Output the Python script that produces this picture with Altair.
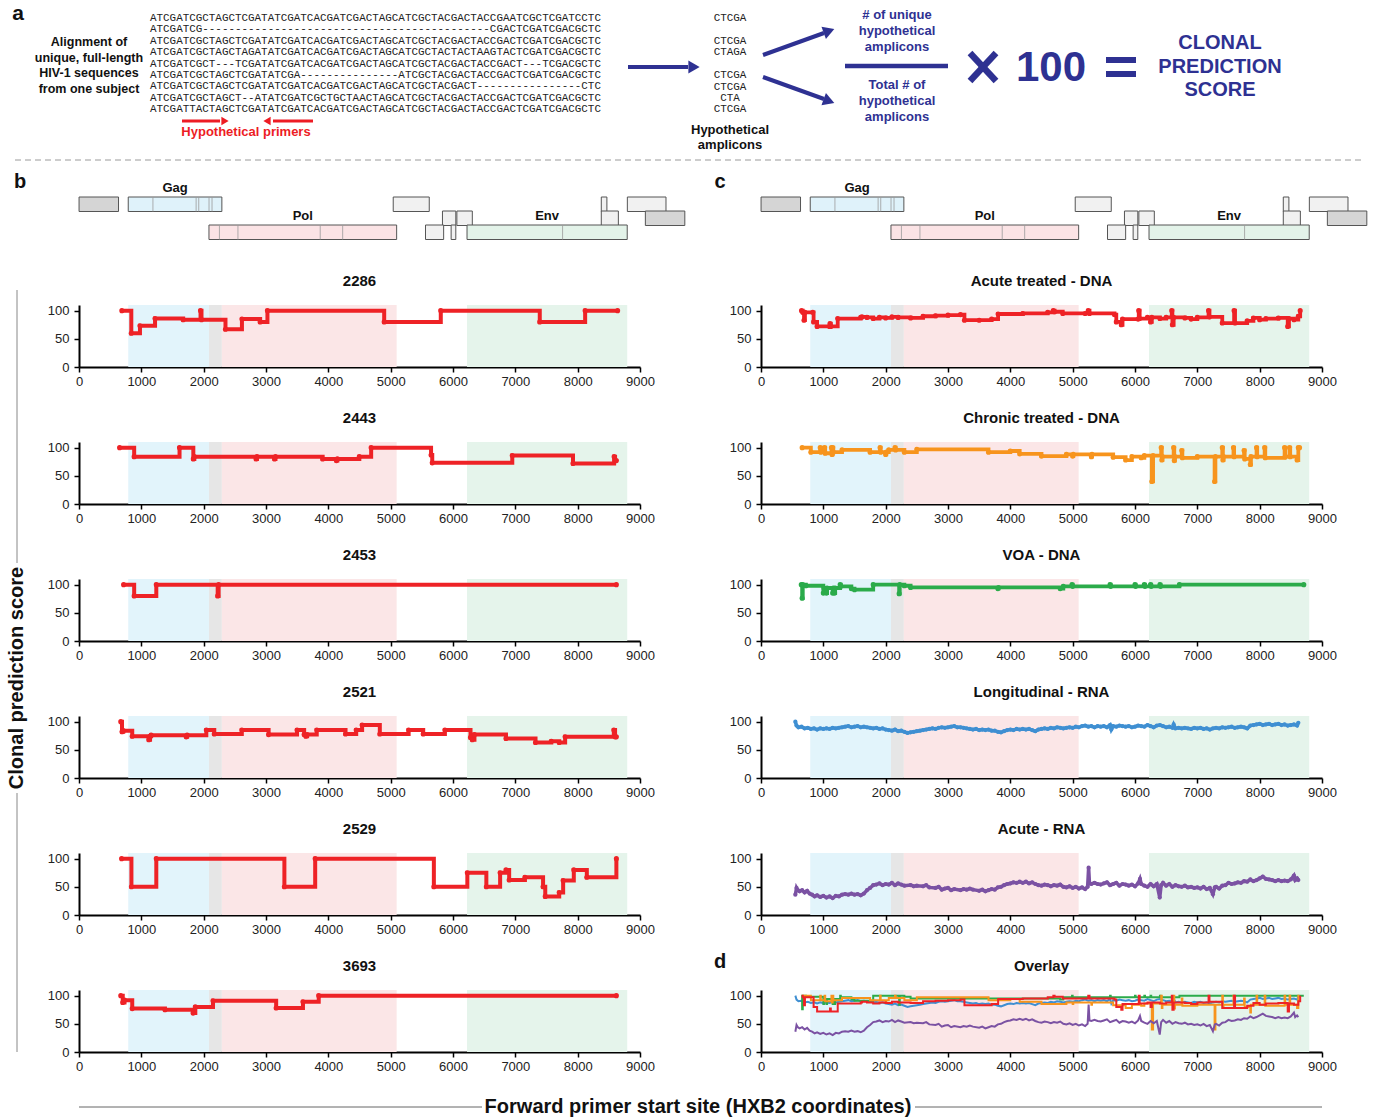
import altair as alt
import pandas as pd

# ======================= DATA =======================
# Panel b: clonal prediction score per participant (HXB2 position, score); step profile change points
P2286 = [(687, 100), (839, 60), (978, 73), (1220, 86), (1671, 84), (1950, 100), (1965, 84), (2350, 67),
         (2614, 85), (2906, 80), (3023, 100), (4896, 80), (5804, 100), (7392, 80), (8120, 100), (8641, 100)]
P2443 = [(651, 100), (885, 84), (1613, 100), (1834, 80), (1850, 84), (2840, 80), (2855, 84), (3137, 80),
         (3152, 84), (3909, 80), (4130, 77), (4145, 80), (4497, 84), (4687, 100), (5648, 87), (5667, 73),
         (6951, 86), (7925, 72), (8585, 84), (8600, 77), (8621, 77)]
P2453 = [(715, 100), (885, 80), (1240, 100), (2225, 80), (2240, 100), (8621, 100)]
P2521 = [(670, 100), (690, 82), (710, 84), (854, 74), (1120, 68), (1140, 74), (1157, 76), (1720, 73),
         (1735, 76), (2043, 85), (2170, 78), (2612, 85), (3042, 77), (3498, 85), (3612, 77), (3640, 74),
         (3660, 77), (3814, 85), (4276, 78), (4447, 85), (4542, 94), (4826, 78), (5288, 85), (5522, 78),
         (5870, 85), (6281, 72), (6310, 68), (6344, 77), (6850, 70), (7324, 63), (7577, 65), (7704, 63),
         (7799, 73), (8580, 85), (8600, 73), (8621, 73)]
P2529 = [(683, 100), (841, 50), (1240, 100), (3295, 50), (3789, 100), (5693, 50), (6230, 75), (6535, 50),
         (6756, 75), (6850, 80), (6901, 62), (7154, 67), (7445, 50), (7480, 33), (7704, 40), (7767, 61),
         (7938, 80), (8147, 67), (8621, 100)]
P3693 = [(670, 100), (702, 88), (730, 92), (854, 77), (1379, 75), (1830, 69), (1866, 80), (2150, 91),
         (3163, 78), (3593, 89), (3846, 100), (8621, 100)]
B_TITLES = ["2286", "2443", "2453", "2521", "2529", "3693"]

# Panel c: group profiles
ACUTE_DNA = [(650, 100), (670, 97), (690, 83), (705, 97), (830, 97), (844, 80), (900, 72), (1100, 72), (1107, 77),
             (1120, 72), (1231, 86), (1600, 88), (1620, 89), (1700, 88), (1800, 86), (1900, 88), (2000, 87),
             (2100, 89), (2200, 88), (2400, 87), (2600, 90), (2800, 91), (3000, 92), (3200, 93), (3264, 83),
             (3500, 83), (3700, 85), (3804, 94), (4200, 95), (4600, 97), (4690, 100), (4710, 98), (4841, 95),
             (5200, 95), (5250, 100), (5270, 95), (5671, 93), (5700, 80), (5780, 75), (5800, 85), (6050, 85),
             (6060, 100), (6075, 86), (6200, 88), (6250, 80), (6270, 88), (6400, 86), (6500, 88), (6590, 100),
             (6600, 75), (6620, 88), (6800, 87), (6900, 85), (7000, 88), (7180, 100), (7195, 89), (7400, 78),
             (7590, 100), (7605, 78), (7800, 82), (7900, 87), (8000, 84), (8100, 86), (8300, 87), (8450, 72),
             (8470, 86), (8550, 84), (8620, 90), (8650, 100)]
CHRONIC_DNA = [(660, 100), (800, 92), (950, 100), (960, 92), (1020, 100), (1030, 90), (1130, 100), (1140, 88),
               (1150, 100), (1160, 92), (1300, 96), (1750, 92), (1910, 100), (1920, 92), (2000, 88), (2010, 92),
               (2050, 96), (2150, 100), (2160, 96), (2300, 92), (2500, 97), (3650, 92), (4000, 94), (4150, 89),
               (4500, 85), (4900, 88), (5000, 85), (5010, 88), (5300, 84), (5310, 88), (5650, 83), (5850, 78),
               (5950, 84), (6100, 82), (6150, 86), (6270, 40), (6290, 86), (6420, 100), (6430, 78), (6440, 84),
               (6620, 100), (6630, 77), (6640, 84), (6750, 95), (6760, 82), (7000, 84), (7277, 40), (7290, 84),
               (7400, 100), (7410, 78), (7420, 84), (7580, 100), (7590, 84), (7750, 95), (7760, 80), (7850, 70),
               (7860, 84), (7950, 100), (7960, 84), (8080, 100), (8090, 82), (8400, 100), (8410, 84), (8480, 100),
               (8490, 84), (8600, 78), (8620, 100), (8640, 100)]
VOA_DNA = [(646, 100), (660, 76), (670, 100), (720, 98), (1000, 85), (1010, 94), (1050, 85), (1060, 94), (1150, 85),
           (1160, 94), (1180, 85), (1190, 94), (1270, 100), (1280, 97), (1450, 93), (1500, 91), (1800, 100),
           (2216, 84), (2226, 100), (2300, 98), (2400, 95), (3800, 93), (3810, 95), (4800, 93), (4850, 97),
           (4990, 100), (5000, 97), (5600, 100), (5610, 97), (6000, 100), (6010, 97), (6150, 100), (6160, 97),
           (6250, 100), (6260, 97), (6400, 100), (6410, 97), (6713, 100), (8708, 100)]
LONG_RNA = [(551, 100), (570, 93), (600, 90), (650, 91), (700, 88), (750, 89), (800, 87), (850, 88), (900, 86),
            (950, 88), (1000, 87), (1050, 88), (1100, 87), (1150, 89), (1200, 88), (1250, 89), (1300, 90),
            (1350, 91), (1400, 92), (1450, 90), (1500, 91), (1550, 92), (1600, 90), (1650, 91), (1700, 90),
            (1750, 89), (1800, 88), (1850, 89), (1900, 87), (1950, 88), (2000, 86), (2050, 85), (2100, 84),
            (2150, 86), (2200, 83), (2250, 84), (2300, 82), (2350, 80), (2400, 81), (2450, 82), (2500, 83),
            (2550, 84), (2600, 85), (2650, 86), (2700, 87), (2750, 88), (2800, 87), (2850, 89), (2900, 90),
            (2950, 89), (3000, 90), (3050, 91), (3100, 92), (3150, 90), (3200, 90), (3250, 89), (3300, 88),
            (3350, 87), (3400, 86), (3450, 87), (3500, 85), (3550, 86), (3600, 85), (3650, 86), (3700, 84),
            (3750, 84), (3800, 82), (3850, 81), (3900, 83), (3950, 85), (4000, 86), (4050, 85), (4100, 87),
            (4150, 86), (4200, 87), (4250, 86), (4300, 87), (4350, 85), (4400, 83), (4450, 86), (4500, 87),
            (4550, 88), (4600, 87), (4650, 89), (4700, 88), (4750, 90), (4800, 89), (4850, 88), (4900, 89),
            (4950, 90), (5000, 89), (5050, 91), (5100, 90), (5150, 92), (5200, 93), (5250, 91), (5300, 92),
            (5350, 90), (5400, 92), (5450, 91), (5500, 92), (5550, 90), (5600, 94), (5620, 86), (5650, 92),
            (5700, 91), (5750, 93), (5800, 92), (5850, 91), (5900, 92), (5950, 90), (6000, 91), (6050, 93),
            (6100, 92), (6150, 91), (6200, 94), (6250, 92), (6300, 90), (6350, 93), (6400, 94), (6450, 92),
            (6500, 90), (6550, 91), (6600, 89), (6620, 95), (6650, 88), (6700, 89), (6750, 88), (6800, 89),
            (6850, 88), (6900, 87), (6950, 89), (7000, 88), (7050, 89), (7100, 87), (7150, 88), (7200, 86),
            (7250, 88), (7300, 89), (7350, 88), (7400, 90), (7450, 89), (7500, 90), (7550, 91), (7600, 89),
            (7650, 90), (7700, 91), (7750, 90), (7800, 88), (7850, 93), (7900, 94), (7950, 95), (8000, 96),
            (8050, 94), (8100, 95), (8150, 96), (8200, 94), (8250, 95), (8300, 96), (8350, 94), (8400, 95),
            (8450, 93), (8500, 94), (8550, 95), (8600, 93), (8620, 98)]
ACUTE_RNA = [(551, 36), (570, 48), (590, 44), (620, 42), (660, 44), (700, 40), (740, 43), (780, 38), (820, 36),
             (860, 33), (900, 35), (950, 32), (1000, 34), (1050, 31), (1100, 33), (1150, 30), (1200, 34),
             (1250, 33), (1300, 36), (1350, 37), (1400, 36), (1450, 38), (1500, 36), (1550, 37), (1600, 35),
             (1650, 38), (1700, 44), (1750, 48), (1800, 53), (1850, 54), (1900, 56), (1950, 53), (2000, 55),
             (2050, 54), (2100, 57), (2150, 53), (2200, 56), (2250, 54), (2300, 52), (2400, 53), (2450, 51),
             (2500, 52), (2600, 51), (2650, 53), (2700, 49), (2800, 48), (2850, 50), (2900, 45), (2950, 47),
             (3000, 48), (3050, 44), (3100, 46), (3200, 44), (3250, 46), (3300, 45), (3350, 47), (3400, 45),
             (3500, 43), (3550, 45), (3600, 42), (3650, 44), (3700, 46), (3750, 45), (3800, 49), (3850, 50),
             (3900, 53), (3950, 55), (4000, 56), (4050, 58), (4100, 57), (4150, 59), (4200, 57), (4250, 59),
             (4300, 56), (4350, 58), (4400, 55), (4450, 53), (4500, 52), (4550, 54), (4600, 53), (4650, 51),
             (4700, 53), (4750, 52), (4800, 54), (4850, 50), (4900, 49), (4950, 51), (5000, 48), (5050, 50),
             (5100, 47), (5150, 49), (5200, 46), (5240, 50), (5256, 84), (5270, 56), (5300, 55), (5350, 57),
             (5400, 55), (5450, 54), (5500, 56), (5550, 58), (5600, 53), (5650, 55), (5700, 57), (5750, 52),
             (5800, 55), (5850, 54), (5900, 52), (5950, 54), (6000, 51), (6050, 56), (6080, 64), (6100, 55),
             (6150, 52), (6200, 50), (6250, 55), (6300, 51), (6350, 55), (6397, 31), (6420, 53), (6450, 57),
             (6500, 52), (6550, 55), (6600, 50), (6650, 53), (6700, 51), (6750, 50), (6800, 52), (6850, 49),
             (6900, 50), (6950, 48), (7000, 49), (7050, 47), (7100, 50), (7150, 46), (7200, 48), (7250, 37),
             (7280, 49), (7300, 50), (7350, 47), (7400, 52), (7450, 53), (7500, 57), (7550, 55), (7600, 56),
             (7650, 58), (7700, 57), (7750, 60), (7800, 59), (7850, 63), (7900, 60), (7950, 62), (8000, 65),
             (8050, 68), (8100, 64), (8150, 63), (8200, 62), (8250, 60), (8300, 62), (8350, 60), (8400, 61),
             (8450, 60), (8500, 63), (8550, 70), (8570, 62), (8600, 65), (8620, 62)]
C_TITLES = ["Acute treated - DNA", "Chronic treated - DNA", "VOA - DNA", "Longitudinal - RNA", "Acute - RNA", "Overlay"]

# HXB2 gene map
GENE_NAMES = ["5' LTR", "gag", "vif", "tat2", "nef", "tat1", "vpu", "rev2", "3' LTR", "pol", "vpr", "rev1", "env"]
GENE_START = [1, 790, 5041, 8379, 8797, 5831, 6062, 8379, 9086, 2085, 5559, 5970, 6225]
GENE_END = [634, 2292, 5619, 8469, 9417, 6045, 6310, 8653, 9719, 5096, 5850, 6045, 8795]
GENE_ROW = [1, 1, 1, 1, 1, 2, 2, 2, 2, 3, 3, 3, 3]
GENE_FILL = ["#d5d5d5", "#dff2fa", "#f1f1f1", "#f1f1f1", "#f1f1f1", "#f1f1f1", "#f1f1f1", "#f1f1f1",
             "#d5d5d5", "#fbe3e5", "#f1f1f1", "#f1f1f1", "#e3f3e9"]
CUT_POS = [1186, 1879, 1921, 2086, 2134, 2253, 2550, 3870, 4230, 7758]
CUT_ROW = [1, 1, 1, 1, 1, 3, 3, 3, 3, 3]
GENE_LABELS = ["Gag", "Pol", "Env"]
GENE_LABEL_POS = [1541, 3590, 7510]
GENE_LABEL_ROW = [0, 2, 2]

# region shading behind profiles
SHADE_START = [790, 2085, 2292, 6225]
SHADE_END = [2085, 2292, 5096, 8795]
SHADE_COLORS = ["#e2f4fb", "#e6e6e6", "#fbe6e7", "#e5f4eb"]

# panel a texts
SEQS = ["ATCGATCGCTAGCTCGATATCGATCACGATCGACTAGCATCGCTACGACTACCGAATCGCTCGATCCTC",
        "ATCGATCG--------------------------------------------CGACTCGATCGACGCTC",
        "ATCGATCGCTAGCTCGATATCGATCACGATCGACTAGCATCGCTACGACTACCGACTCGATCGACGCTC",
        "ATCGATCGCTAGCTAGATATCGATCACGATCGACTAGCATCGCTACTACTAAGTACTCGATCGACGCTC",
        "ATCGATCGCT---TCGATATCGATCACGATCGACTAGCATCGCTACGACTACCGACT---TCGACGCTC",
        "ATCGATCGCTAGCTCGATATCGA---------------ATCGCTACGACTACCGACTCGATCGACGCTC",
        "ATCGATCGCTAGCTCGATATCGATCACGATCGACTAGCATCGCTACGACT----------------CTC",
        "ATCGATCGCTAGCT--ATATCGATCGCTGCTAACTAGCATCGCTACGACTACCGACTCGATCGACGCTC",
        "ATCGATTACTAGCTCGATATCGATCACGATCGACTAGCATCGCTACGACTACCGACTCGATCGACGCTC"]
AMPLICONS = ["CTCGA", "CTCGA", "CTAGA", "CTCGA", "CTCGA", "CTA", "CTCGA"]
LEFT_TEXT = ["Alignment of", "unique, full-length", "HIV-1 sequences", "from one subject"]
AMP_LABEL = ["Hypothetical", "amplicons"]
NUM_TEXT = ["# of unique", "hypothetical", "amplicons"]
DEN_TEXT = ["Total # of", "hypothetical", "amplicons"]
SCORE_TEXT = ["CLONAL", "PREDICTION", "SCORE"]

# ======================= STYLE / LAYOUT =======================
FONT = "Liberation Sans"
MONO = "Liberation Mono"
NAVY = "#2e3192"
RED = "#ed1c24"
COLORS = {"red": "#ee2226", "orange": "#f7941d", "green": "#2bab4a", "blue": "#3f8fd2", "purple": "#7b52a3"}
W, H = 561, 62
ROW_TOP = {1: 29, 2: 43, 3: 57}
ROW_H = 14.5

XS = alt.Scale(domain=[0, 9000], nice=False, zero=False)
YS = alt.Scale(domain=[0, 110], nice=False)
XAX = alt.Axis(values=list(range(0, 9001, 1000)), format="d", labelFlush=False, labelOverlap=False, title=None)
YAX = alt.Axis(values=[0, 50, 100], format="d", labelOverlap=False, title=None)

ONE = pd.DataFrame({"k": [0]})


def label_at(t, x, y, **mk):
    return alt.Chart(pd.DataFrame({"t": [t]})).mark_text(**mk).encode(
        text="t:N", x=alt.value(x), y=alt.value(y))


def seg_at(x1, y1, x2, y2, **mk):
    return alt.Chart(ONE).mark_rule(**mk).encode(
        x=alt.value(x1), y=alt.value(y1), x2=alt.value(x2), y2=alt.value(y2))


def shade_layer():
    df = pd.DataFrame({"s": SHADE_START, "e": SHADE_END, "c": SHADE_COLORS})
    return alt.Chart(df).mark_rect().encode(
        x=alt.X("s:Q", scale=XS, axis=XAX), x2="e:Q",
        y=alt.value(0), y2=alt.value(H),
        color=alt.Color("c:N", scale=None))


def series(pairs, color, interp="step-after", sw=4, pts=True, psize=26):
    df = pd.DataFrame(pairs, columns=["pos", "score"])
    base = alt.Chart(df).encode(x=alt.X("pos:Q", scale=XS, axis=XAX),
                                y=alt.Y("score:Q", scale=YS, axis=YAX))
    out = [base.mark_line(color=color, strokeWidth=sw, interpolate=interp)]
    if pts:
        out.append(base.mark_circle(color=color, size=psize, opacity=1))
    return out


def title_layer(t):
    return label_at(t, W / 2, -24, font=FONT, fontSize=15, fontWeight="bold", baseline="middle", color="#111")


def plot_cell(title, layers, extras=()):
    return alt.layer(shade_layer(), *layers, title_layer(title), *extras).properties(width=W, height=H)


def gene_cell(letter):
    g = pd.DataFrame({"name": GENE_NAMES, "start": GENE_START, "end": GENE_END,
                      "row": GENE_ROW, "fill": GENE_FILL})
    g["top"] = g["row"].map(ROW_TOP)
    g["bot"] = g["top"] + ROW_H
    boxes = alt.Chart(g).mark_rect(stroke="#555", strokeWidth=1).encode(
        x=alt.X("start:Q", scale=XS, axis=None), x2="end:Q",
        y=alt.Y("top:Q", scale=None, axis=None), y2="bot:Q",
        fill=alt.Fill("fill:N", scale=None))
    c = pd.DataFrame({"pos": CUT_POS, "row": CUT_ROW})
    c["top"] = c["row"].map(ROW_TOP)
    c["bot"] = c["top"] + ROW_H
    cuts = alt.Chart(c).mark_rule(color="#9a9a9a", strokeWidth=0.8).encode(
        x=alt.X("pos:Q", scale=XS, axis=None),
        y=alt.Y("top:Q", scale=None, axis=None), y2="bot:Q")
    lab = pd.DataFrame({"t": GENE_LABELS, "pos": GENE_LABEL_POS, "row": GENE_LABEL_ROW})
    lab["ly"] = lab["row"].map({0: 20, 2: 48})
    labels = alt.Chart(lab).mark_text(font=FONT, fontSize=13, fontWeight="bold", baseline="middle",
                                      color="#111").encode(
        x=alt.X("pos:Q", scale=XS, axis=None), y=alt.Y("ly:Q", scale=None, axis=None), text="t:N")
    let = label_at(letter, -59 if letter == "b" else -41, 14, font=FONT, fontSize=20, fontWeight="bold",
                   baseline="middle", align="center", color="#111")
    return alt.layer(boxes, cuts, labels, let).properties(width=W, height=H)


# ---------------- panel a (diagram), drawn in the first grid cell -----------------
OX, OY = 79, 31  # page position of this cell's origin


def text_layer(items, **mk):
    df = pd.DataFrame(items, columns=["t", "px", "py"])
    df["cx"] = df["px"] - OX
    df["cy"] = df["py"] - OY
    return alt.Chart(df).mark_text(baseline="middle", **mk).encode(
        x=alt.X("cx:Q", scale=None, axis=None), y=alt.Y("cy:Q", scale=None, axis=None), text="t:N")


def rule_layer(segs, **mk):
    df = pd.DataFrame(segs, columns=["x1", "y1", "x2", "y2"])
    df["a"] = df["x1"] - OX
    df["b"] = df["y1"] - OY
    df["c"] = df["x2"] - OX
    df["d"] = df["y2"] - OY
    return alt.Chart(df).mark_rule(**mk).encode(
        x=alt.X("a:Q", scale=None, axis=None), y=alt.Y("b:Q", scale=None, axis=None), x2="c:Q", y2="d:Q")


def head_layer(pts, shape, angle, size, color):
    df = pd.DataFrame(pts, columns=["px", "py"])
    df["cx"] = df["px"] - OX
    df["cy"] = df["py"] - OY
    return alt.Chart(df).mark_point(shape=shape, angle=angle, size=size, filled=True, opacity=1,
                                    color=color, strokeWidth=0).encode(
        x=alt.X("cx:Q", scale=None, axis=None), y=alt.Y("cy:Q", scale=None, axis=None))


anchor = alt.Chart(ONE).mark_rect(opacity=0).encode(
    x=alt.value(-OX), y=alt.value(-OY), x2=alt.value(1377 - OX), y2=alt.value(1118 - OY))

seq_items = [(s, 150, 18 + 11.4 * i) for i, s in enumerate(SEQS)]
amp_y = [18, 41, 52, 75, 87, 98, 109]
amp_items = [(s, 730, y) for s, y in zip(AMPLICONS, amp_y)]
left_items = [(s, 89, 42 + 15.7 * i) for i, s in enumerate(LEFT_TEXT)]
amp_label_items = [(s, 730, 130 + 15 * i) for i, s in enumerate(AMP_LABEL)]
num_items = [(s, 897, 15 + 16 * i) for i, s in enumerate(NUM_TEXT)]
den_items = [(s, 897, 85 + 16 * i) for i, s in enumerate(DEN_TEXT)]
score_items = [(s, 1220, 43 + 23.5 * i) for i, s in enumerate(SCORE_TEXT)]

panel_a = alt.layer(
    anchor,
    rule_layer([(15, 160, 1365, 160)], color="#9a9a9a", strokeWidth=1, strokeDash=[6, 4]),
    text_layer([("a", 18, 14)], font=FONT, fontSize=21, fontWeight="bold", color="#111"),
    text_layer(left_items, font=FONT, fontSize=12.5, fontWeight="bold", color="#111"),
    text_layer(amp_label_items, font=FONT, fontSize=13, fontWeight="bold", color="#111"),
    text_layer(seq_items, font=MONO, fontSize=10.9, align="left", color="#222"),
    text_layer(amp_items, font=MONO, fontSize=10.9, color="#222"),
    text_layer([("Hypothetical primers", 246, 132)], font=FONT, fontSize=13, fontWeight="bold", color=RED),
    rule_layer([(182, 121, 220, 121), (273, 121, 313, 121)], color=RED, strokeWidth=3),
    head_layer([(225, 121)], "triangle-right", 0, 70, RED),
    head_layer([(267, 121)], "triangle-left", 0, 70, RED),
    rule_layer([(628, 67, 688, 67), (763, 55, 824, 33), (763, 77, 824, 99)], color=NAVY, strokeWidth=4),
    head_layer([(694, 67)], "triangle-right", 0, 170, NAVY),
    head_layer([(829, 31)], "triangle-right", 340, 170, NAVY),
    head_layer([(829, 101)], "triangle-right", 20, 170, NAVY),
    text_layer(num_items + den_items, font=FONT, fontSize=13, fontWeight="bold", color=NAVY),
    rule_layer([(845, 66, 948, 66)], color=NAVY, strokeWidth=4.5),
    rule_layer([(970, 53, 996, 81), (970, 81, 996, 53)], color=NAVY, strokeWidth=6.5),
    text_layer([("100", 1051, 68)], font=FONT, fontSize=42, fontWeight="bold", color=NAVY),
    rule_layer([(1106, 60, 1136, 60), (1106, 74, 1136, 74)], color=NAVY, strokeWidth=6),
    text_layer(score_items, font=FONT, fontSize=20, fontWeight="bold", color=NAVY),
).properties(width=W, height=H)

blank = alt.Chart(ONE).mark_point(opacity=0).encode(x=alt.value(0), y=alt.value(0)).properties(width=W, height=H)

# ---------------- panel b and c cells -----------------
b_data = [P2286, P2443, P2453, P2521, P2529, P3693]
c_series = [(ACUTE_DNA, COLORS["red"], "step-after"), (CHRONIC_DNA, COLORS["orange"], "step-after"),
            (VOA_DNA, COLORS["green"], "step-after"), (LONG_RNA, COLORS["blue"], "linear"),
            (ACUTE_RNA, COLORS["purple"], "linear")]

cells = [panel_a, blank, gene_cell("b"), gene_cell("c")]
for i in range(6):
    extras_b = []
    if i == 0:
        extras_b = [
            label_at("Clonal prediction score", -62, 373, font=FONT, fontSize=20, fontWeight="bold",
                     angle=270, baseline="middle", align="center", color="#111"),
            seg_at(-62, -15, -62, 258, color="#888", strokeWidth=1),
            seg_at(-62, 488, -62, 747, color="#888", strokeWidth=1),
        ]
    if i == 5:
        extras_b = [
            label_at("Forward primer start site (HXB2 coordinates)", 619, 117, font=FONT, fontSize=20,
                     fontWeight="bold", baseline="middle", align="center", color="#111"),
            seg_at(0, 117, 403, 117, color="#666", strokeWidth=1),
            seg_at(836, 117, 1243, 117, color="#666", strokeWidth=1),
        ]
    cells.append(plot_cell(B_TITLES[i], series(b_data[i], COLORS["red"]), extras_b))
    if i < 5:
        d, col, interp = c_series[i]
        if interp == "linear":
            cells.append(plot_cell(C_TITLES[i], series(d, col, interp=interp, sw=3.5, psize=18)))
        else:
            cells.append(plot_cell(C_TITLES[i], series(d, col, interp=interp, sw=3.8)))
    else:
        order = [3, 2, 1, 0, 4]
        layers = []
        for j in order:
            d, col, interp = c_series[j]
            layers += series(d, col, interp=interp, sw=2, pts=False)
        d_lab = label_at("d", -41, -28, font=FONT, fontSize=20, fontWeight="bold", baseline="middle",
                         align="center", color="#111")
        cells.append(plot_cell(C_TITLES[i], layers, [d_lab]))

chart = alt.concat(*cells, columns=2, spacing={"row": 75, "column": 121}, bounds="flush").properties(
    padding=0, background="white"
).configure_view(stroke=None).configure_axis(
    domainColor="black", domainWidth=2, tickColor="black", tickWidth=1.5, tickSize=5,
    labelFont=FONT, labelFontSize=13, labelColor="#222", labelPadding=3, grid=False
).configure_axisY(labelPadding=5)

chart.save("out.html", embed_options={"renderer": "svg", "actions": False})
